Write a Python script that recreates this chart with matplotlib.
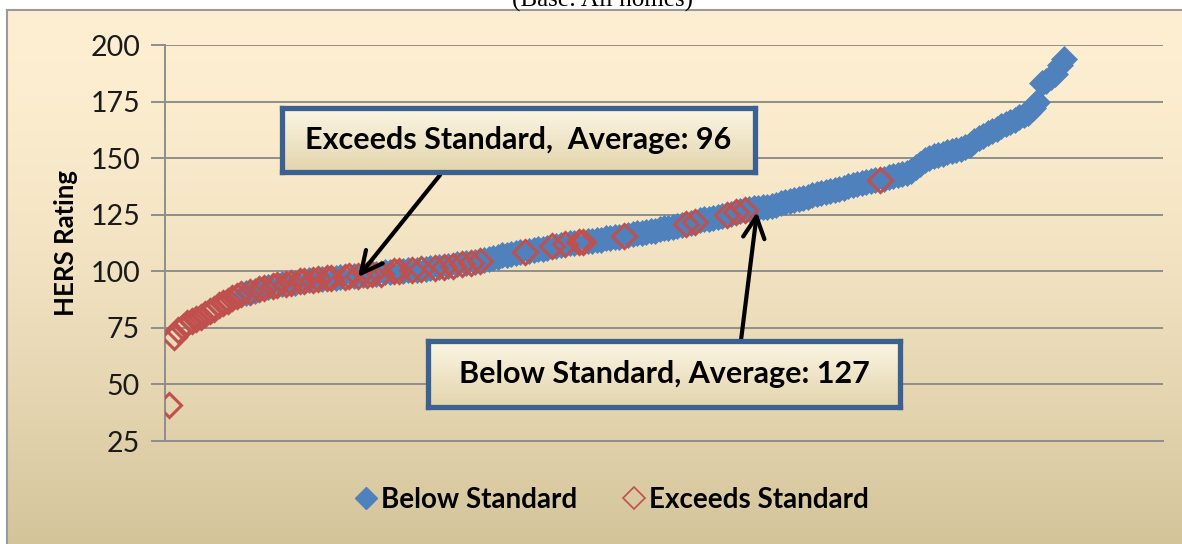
import matplotlib
matplotlib.use('Agg')
import matplotlib.pyplot as plt
import numpy as np
from matplotlib.lines import Line2D

# ---------------- data ----------------
# HERS ratings of all homes, sorted ascending (rank 1..200)
ratings = [
    41, 71, 74, 75.5, 77, 78, 79, 80, 81, 82.5,
    83.5, 85, 86, 87, 88, 89, 90, 90.5, 91, 91.5,
    92, 92.5, 93, 93.5, 94, 94.5, 94.5, 95, 95, 95.5,
    95.5, 96, 96, 96.5, 96.5, 97, 97, 97, 97.5, 97.5,
    98, 98, 98, 98.5, 98.5, 99, 99, 99, 99.5, 99.5,
    100, 100, 100, 100.5, 100.5, 100.5, 101, 101, 101.5, 101.5,
    102, 102, 102.5, 102.5, 103, 103, 103.5, 103.5, 104, 104.5,
    105, 105.5, 106, 106.5, 107, 107, 107.5, 108, 108.5, 108.5,
    109, 109.5, 110, 110, 110.5, 111, 111, 111.5, 112, 112.5,
    112.5, 113, 113, 113.5, 113.5, 114, 114, 114.5, 114.5, 115,
    115, 115.5, 116, 116.5, 117, 117, 117.5, 118, 118, 118.5,
    119, 119, 119.5, 120, 120.5, 121, 121.5, 122, 122.5, 123,
    123, 123.5, 124, 124.5, 125, 125.5, 126, 126.5, 127, 127.5,
    128, 128, 128.5, 128.5, 129, 129.5, 130, 130.5, 131, 131.5,
    132, 132.5, 133, 133.5, 134, 134.5, 135, 135.5, 136, 136.5,
    137, 137.5, 138, 138.5, 139, 139.5, 140, 140.5, 140.5, 141,
    141.5, 142, 142.5, 143, 143.5, 144.5, 146, 147.5, 149, 150,
    151, 151.5, 152, 152.5, 153, 153.5, 154, 155, 156, 157.5,
    159, 160, 161, 162, 163, 164, 165, 166, 167, 168,
    169, 170, 172, 175, 183, 184, 186, 187, 191, 194,
]
# ranks of the homes that exceed the standard
exceeds_ranks = list(range(1, 18)) + [
    19, 21, 22, 24, 25, 27, 28, 30, 31, 33, 34, 36, 37, 40, 41, 43, 45, 46,
    48, 51, 52, 55, 57, 60, 62, 64, 66, 68, 70,
    80, 86, 89, 92, 93, 102, 116, 118, 125, 127, 129, 159,
]
series_names = ["Below Standard", "Exceeds Standard"]
y_ticks = [25, 50, 75, 100, 125, 150, 175, 200]
y_label = "HERS Rating"
callout_exceeds = "Exceeds Standard,  Average: 96"
callout_below = "Below Standard, Average: 127"
subtitle = "(Base: All homes)"

ranks = np.arange(1, len(ratings) + 1)
vals = np.array(ratings, dtype=float)
red_mask = np.isin(ranks, exceeds_ranks)

BLUE = '#4F81BD'
RED = '#C0504D'
BOXEDGE = '#3A6192'
FONT = ['Lato', 'DejaVu Sans']
plt.rcParams['font.family'] = FONT

W, H = 1182, 544
fig = plt.figure(figsize=(W / 100, H / 100), dpi=100)
fig.patch.set_facecolor('white')

# chart-area gradient background
bg = fig.add_axes([7 / W, 0, 1 - 7 / W, (H - 10) / H])
top_c = np.array([254, 239, 210]) / 255
bot_c = np.array([212, 196, 154]) / 255
t = np.linspace(0, 1, 256) ** 1.6
grad = top_c[None, None, :] * (1 - t)[:, None, None] + bot_c[None, None, :] * t[:, None, None]
bg.imshow(grad, aspect='auto', extent=[0, 1, 0, 1])
bg.axis('off')
fig.add_artist(Line2D([7 / W, 1], [1 - 10 / H, 1 - 10 / H], transform=fig.transFigure,
                      color='#9A9A9A', lw=1.5))
fig.add_artist(Line2D([7 / W, 7 / W], [0, 1 - 10 / H], transform=fig.transFigure,
                      color='#9A9A9A', lw=1.5))

fig.text(602 / W, 1 - 6.5 / H, subtitle, ha='center', va='baseline',
         family=['Liberation Serif'], fontsize=18, color='black')

# main axes
ax = fig.add_axes([165 / W, 1 - 441 / H, 998 / W, 396 / H])
ax.set_facecolor('none')
ax.plot(ranks[~red_mask], vals[~red_mask], linestyle='none', marker='D',
        markersize=13, color=BLUE, markeredgecolor=BLUE, markeredgewidth=0.5, zorder=3)
ax.plot(ranks[red_mask], vals[red_mask], linestyle='none', marker='D',
        markersize=12.5, markerfacecolor='none', markeredgecolor=RED,
        markeredgewidth=2.2, zorder=4)
ax.set_xlim(0, 222)
ax.set_ylim(25, 200)
ax.set_yticks(y_ticks)
ax.set_xticks([])
ax.grid(axis='y', color='#8E8E8E', lw=1.4, zorder=0)
ax.set_axisbelow(True)
for s in ['top', 'right']:
    ax.spines[s].set_visible(False)
for s in ['left', 'bottom']:
    ax.spines[s].set_color('#8E8E8E')
    ax.spines[s].set_linewidth(1.4)
ax.tick_params(axis='y', length=10, width=1.4, color='#8E8E8E', labelsize=20.5, pad=8,
               labelcolor='#1A1A1A')
ax.set_ylabel(y_label, fontsize=18.5, fontweight='bold')
ax.yaxis.set_label_coords(-0.0872, 0.501)

# arrows
arrow_kw = dict(arrowstyle='->,head_length=0.7,head_width=0.35', color='black', lw=3,
                mutation_scale=22, shrinkA=0, shrinkB=0)
ax.annotate('', xy=(0.1934, 0.4141), xytext=(0.2756, 0.6717), xycoords='axes fraction',
            textcoords='axes fraction', arrowprops=arrow_kw, zorder=6)
ax.annotate('', xy=(0.5932, 0.5783), xytext=(0.5772, 0.2551), xycoords='axes fraction',
            textcoords='axes fraction', arrowprops=arrow_kw, zorder=6)

# callout boxes
box_top = np.array([252, 246, 228]) / 255
box_bot = np.array([226, 212, 172]) / 255
tb = np.linspace(0, 1, 64)
bgrad = box_top[None, None, :] * (1 - tb)[:, None, None] + box_bot[None, None, :] * tb[:, None, None]


def callout(left, top, right, bottom, text):
    cax = fig.add_axes([left / W, 1 - bottom / H, (right - left) / W, (bottom - top) / H])
    cax.imshow(bgrad, aspect='auto', extent=[0, 1, 0, 1])
    cax.set_xticks([])
    cax.set_yticks([])
    for sp in cax.spines.values():
        sp.set_color(BOXEDGE)
        sp.set_linewidth(3.8)
    cax.text(0.5, 0.5, text, ha='center', va='center', fontsize=22, fontweight='bold',
             transform=cax.transAxes, color='black')


callout(282, 108, 755, 172, callout_exceeds)
callout(428, 341, 900, 407, callout_below)

# legend
handles = [
    Line2D([], [], linestyle='none', marker='D', markersize=11, color=BLUE),
    Line2D([], [], linestyle='none', marker='D', markersize=11, markerfacecolor='none',
           markeredgecolor=RED, markeredgewidth=1.2),
]
fig.legend(handles, series_names, loc='center', bbox_to_anchor=(612 / W, 1 - 500 / H),
           ncol=2, frameon=False, handlelength=0.8, handletextpad=0.15, columnspacing=1.65,
           prop={'family': FONT, 'weight': 'bold', 'size': 20})

fig.savefig('out.png', dpi=100)
